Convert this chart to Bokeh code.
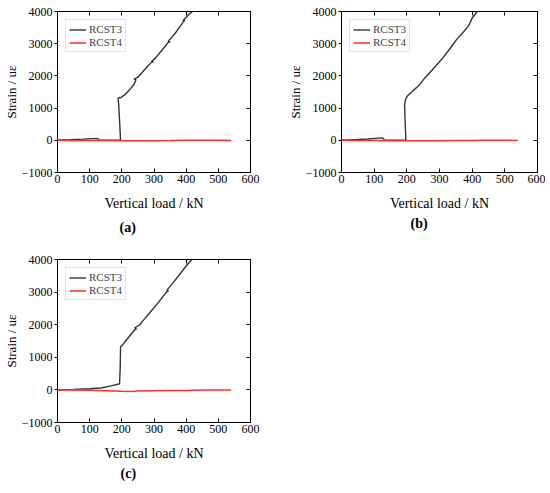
from bokeh.plotting import figure
from bokeh.models import Range1d, FixedTicker, Title, Legend, LegendItem, LinearAxis, CustomLabelingPolicy
from bokeh.layouts import column, row
from bokeh.embed import file_html
from bokeh.resources import INLINE

# ---------------- data ----------------
x_ticks = [0, 100, 200, 300, 400, 500, 600]
y_ticks = [-1000, 0, 1000, 2000, 3000, 4000]
series_names = ["RCST3", "RCST4"]
captions = ["(a)", "(b)", "(c)"]

load_a3 = [0, 40, 80, 125, 130, 160, 196, 193, 190, 188, 193, 196, 210, 225, 238, 244, 238, 250,
           265, 280, 292, 298, 292, 305, 320, 335, 344, 350, 344, 355, 370, 383, 391, 396, 390,
           400, 410, 420, 430]
strain_a3 = [0, 15, 35, 60, 5, 5, 10, 600, 1150, 1300, 1330, 1320, 1420, 1580, 1740, 1880, 1900, 1960,
             2130, 2300, 2420, 2430, 2440, 2560, 2740, 2920, 3040, 3060, 3080, 3190, 3380, 3560, 3680, 3720, 3720,
             3820, 3920, 4000, 4100]
load_a4 = [0, 50, 100, 150, 200, 250, 300, 350, 400, 450, 500, 540]
strain_a4 = [0, -5, -10, -10, -15, -15, -15, -10, 0, 5, 0, -5]

load_b3 = [0, 40, 80, 126, 132, 165, 197, 195, 193, 197, 204, 220, 237, 252, 269, 288, 308, 330,
           354, 372, 390, 400, 408, 415, 425]
strain_b3 = [0, 20, 40, 75, 5, 5, 10, 550, 1110, 1300, 1400, 1550, 1700, 1900, 2090, 2300, 2530, 2820,
             3150, 3350, 3570, 3800, 3900, 4000, 4100]
load_b4 = [0, 50, 100, 150, 200, 250, 300, 350, 400, 450, 500, 540]
strain_b4 = [0, -5, -10, -15, -15, -15, -15, -10, -5, 0, 0, -5]

load_c3 = [0, 50, 100, 135, 170, 193, 195, 196, 197, 203, 215, 228, 238, 245, 240, 255, 270, 292,
           310, 325, 338, 345, 340, 355, 370, 385, 395, 405, 415, 425]
strain_c3 = [0, 15, 35, 60, 130, 190, 700, 1310, 1330, 1390, 1540, 1700, 1820, 1870, 1900, 1990, 2170, 2430,
             2640, 2830, 2990, 3040, 3060, 3230, 3420, 3610, 3740, 3860, 3970, 4100]
load_c4 = [0, 50, 100, 150, 200, 240, 245, 300, 350, 400, 450, 500, 540]
strain_c4 = [0, -5, -10, -25, -45, -50, -30, -25, -20, -15, -5, 0, -5]

FONT = "Liberation Serif"
BLACK = "#333333"
RED = "#ff2a2a"


def tick_only_axis(ticks):
    # mirror axis: inward ticks, no labels drawn
    return LinearAxis(ticker=FixedTicker(ticks=ticks), major_tick_in=4, major_tick_out=0,
                      minor_tick_line_color=None, axis_line_color="black",
                      major_tick_line_color="black", major_label_text_font_size="1px",
                      major_label_standoff=0,
                      major_label_policy=CustomLabelingPolicy(
                          code="return new indices.constructor(indices.size)"))


def make_panel(l3, s3, l4, s4, caption, width, height, mb_left, mb_right, mb_top, mb_bottom,
               cap_offset, cap_standoff):
    p = figure(width=width, height=height, output_backend="svg", toolbar_location=None,
               x_range=Range1d(0, 600), y_range=Range1d(-1000, 4000),
               min_border_left=mb_left, min_border_right=mb_right,
               min_border_top=mb_top, min_border_bottom=mb_bottom)
    p.title.visible = False
    p.grid.visible = False
    p.outline_line_color = "black"
    p.outline_line_width = 1
    p.background_fill_color = "white"
    p.border_fill_color = "white"

    r3 = p.line(l3, s3, line_color=BLACK, line_width=1.4)
    r4 = p.line(l4, s4, line_color=RED, line_width=1.5)

    xa = p.xaxis[0]
    xa.ticker = FixedTicker(ticks=x_ticks)
    xa.axis_label = "Vertical load / kN"
    ya = p.yaxis[0]
    ya.ticker = FixedTicker(ticks=y_ticks)
    ya.axis_label = "Strain / uε"
    for ax in (xa, ya):
        ax.axis_label_text_font = FONT
        ax.axis_label_text_font_style = "normal"
        ax.major_label_text_font = FONT
        ax.major_label_text_font_size = "12px"
        ax.major_label_text_color = "black"
        ax.axis_label_text_color = "black"
        ax.axis_line_color = "black"
        ax.major_tick_line_color = "black"
        ax.minor_tick_line_color = None
        ax.major_label_standoff = 2
    xa.axis_label_text_font_size = "14px"
    ya.axis_label_text_font_size = "13px"
    xa.major_tick_in = 4
    xa.major_tick_out = 0
    xa.axis_label_standoff = 10
    ya.major_tick_in = 0
    ya.major_tick_out = 3
    ya.axis_label_standoff = 0

    p.add_layout(tick_only_axis(y_ticks), "right")
    p.add_layout(tick_only_axis(x_ticks), "above")

    p.add_layout(Title(text=caption, align="left", offset=cap_offset, standoff=cap_standoff,
                       text_font=FONT, text_font_size="14px", text_font_style="bold",
                       text_color="black"), "below")

    legend = Legend(items=[LegendItem(label=series_names[0], renderers=[r3]),
                           LegendItem(label=series_names[1], renderers=[r4])],
                    location="top_left")
    legend.label_text_font = FONT
    legend.label_text_font_size = "11px"
    legend.label_height = 11
    legend.glyph_height = 11
    legend.glyph_width = 17
    legend.label_standoff = 3
    legend.spacing = 1
    legend.padding = 3
    legend.margin = 8
    legend.border_line_color = "#c8c8c8"
    legend.background_fill_alpha = 1.0
    p.add_layout(legend, "center")
    return p


pa = make_panel(load_a3, strain_a3, load_a4, strain_a4, captions[0], 275, 250, 0, 25, 11, 78, 62, 9)
pb = make_panel(load_b3, strain_b3, load_b4, strain_b4, captions[1], 270, 250, 66, 8, 11, 78, 69, 0)
pc = make_panel(load_c3, strain_c3, load_c4, strain_c4, captions[2], 275, 240, 0, 25, 9, 68, 63, 0)

layout = column(row(pa, pb), pc)
open("out.html", "w").write(file_html(layout, INLINE))
